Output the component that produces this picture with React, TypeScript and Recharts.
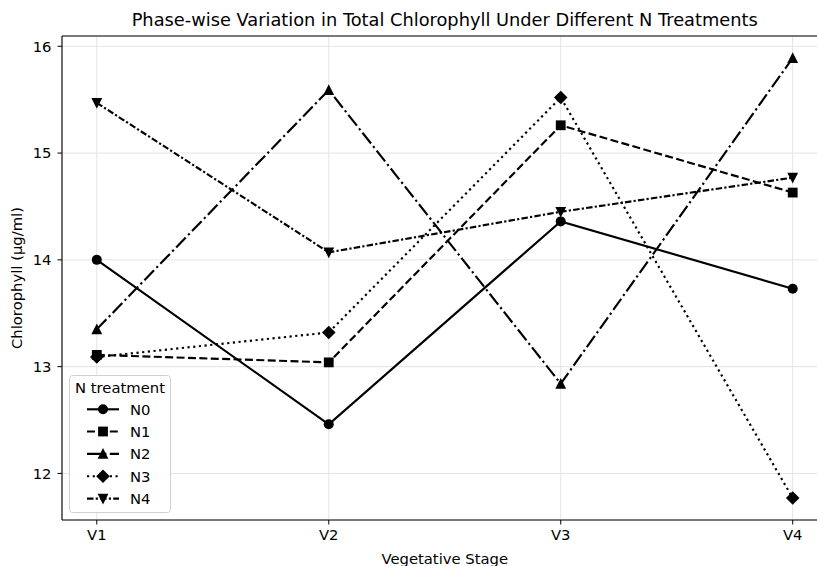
import React from "react";
import {
  LineChart, Line, XAxis, YAxis, CartesianGrid, ReferenceLine,
} from "recharts";

// stades et valeurs
const stages = ["V1", "V2", "V3", "V4"];
const n0 = [14.0, 12.46, 14.36, 13.73];
const n1 = [13.11, 13.04, 15.26, 14.63];
const n2 = [13.35, 15.59, 12.84, 15.89];
const n3 = [13.09, 13.32, 15.52, 11.77];
const n4 = [15.47, 14.07, 14.45, 14.77];
const yTicks = [12, 13, 14, 15, 16];

const Y_MIN = 11.564;
const Y_MAX = 16.096;
const FONT = "'DejaVu Sans', sans-serif";
const FS = 14.8;
const LW = 2.15;

type Shape = "circle" | "square" | "triangle" | "diamond" | "triangleDown";

const series: { key: string; shape: Shape; dash?: string }[] = [
  { key: "N0", shape: "circle" },
  { key: "N1", shape: "square", dash: "8 3.4" },
  { key: "N2", shape: "triangle", dash: "13.8 3.4 2.2 3.4" },
  { key: "N3", shape: "diamond", dash: "2.2 3.5" },
  { key: "N4", shape: "triangleDown", dash: "6.5 2.2 2.2 2.2" },
];

const data = stages.map((s, i) => ({
  idx: i, stage: s, N0: n0[i], N1: n1[i], N2: n2[i], N3: n3[i], N4: n4[i],
}));

function marker(shape: Shape, cx: number, cy: number, key?: string) {
  switch (shape) {
    case "circle":
      return <circle key={key} cx={cx} cy={cy} r={5} fill="#000" />;
    case "square":
      return <rect key={key} x={cx - 4.9} y={cy - 4.9} width={9.8} height={9.8} fill="#000" />;
    case "triangle":
      return <polygon key={key} points={`${cx},${cy - 5.8} ${cx - 5.4},${cy + 4.9} ${cx + 5.4},${cy + 4.9}`} fill="#000" />;
    case "triangleDown":
      return <polygon key={key} points={`${cx},${cy + 5.8} ${cx - 5.4},${cy - 4.9} ${cx + 5.4},${cy - 4.9}`} fill="#000" />;
    case "diamond":
      return <polygon key={key} points={`${cx},${cy - 6.8} ${cx + 6.8},${cy} ${cx},${cy + 6.8} ${cx - 6.8},${cy}`} fill="#000" />;
  }
}

const dotFor = (shape: Shape, name: string) => (p: any) =>
  marker(shape, p.cx, p.cy, `${name}-${p.index}`);

// légende façon matplotlib, boîte en bas à gauche
function LegendBox() {
  const rows = [34.3, 56.5, 78.8, 101.2, 123.6];
  return (
    <svg width={102} height={138} style={{ display: "block", fontFamily: FONT }}>
      <rect x={0.5} y={0.5} width={101} height={137} rx={3} fill="rgba(255,255,255,0.85)" stroke="#d0d0d0" />
      <text x={51} y={17.5} fontSize={FS} textAnchor="middle" fill="#000">N treatment</text>
      {series.map((s, i) => (
        <g key={s.key}>
          <line x1={18} x2={50} y1={rows[i]} y2={rows[i]} stroke="#000" strokeWidth={LW} strokeDasharray={s.dash} />
          {marker(s.shape, 34, rows[i])}
          <text x={61} y={rows[i] + 5.3} fontSize={FS} fill="#000">{s.key}</text>
        </g>
      ))}
    </svg>
  );
}

export default function App() {
  return (
    <div style={{ position: "absolute", left: 0, top: 0, width: 817, height: 566, overflow: "hidden", background: "#fff" }}>
      <div style={{
        position: "absolute", left: 44.7, top: 9, width: 800, textAlign: "center",
        fontFamily: FONT, fontSize: 17.8, lineHeight: "21px", color: "#000",
      }}>
        Phase-wise Variation in Total Chlorophyll Under Different N Treatments
      </div>
      <LineChart width={840} height={566} data={data} margin={{ top: 36, right: 12.5, bottom: 0, left: 0 }}>
        <CartesianGrid stroke="#e4e4e4" strokeWidth={1} />
        <XAxis
          dataKey="idx" type="number" domain={[-0.15, 3.15]} ticks={[0, 1, 2, 3]}
          tickFormatter={(v: number) => stages[v]} allowDataOverflow height={46}
          axisLine={{ stroke: "#000", strokeWidth: 1.1 }} tickLine={{ stroke: "#000" }}
          tickSize={4.5} tickMargin={5}
          tick={{ fill: "#000", fontSize: FS, fontFamily: FONT }}
          label={{ value: "Vegetative Stage", position: "insideBottom", offset: 2, fill: "#000", fontSize: FS, fontFamily: FONT }}
        />
        <YAxis
          type="number" domain={[Y_MIN, Y_MAX]} ticks={yTicks} allowDataOverflow width={62}
          axisLine={{ stroke: "#000", strokeWidth: 1.1 }} tickLine={{ stroke: "#000" }}
          tickSize={4.5} tickMargin={6}
          tick={{ fill: "#000", fontSize: FS, fontFamily: FONT }}
          label={{
            value: "Chlorophyll (µg/ml)", angle: -90, position: "insideLeft", offset: 17,
            style: { textAnchor: "middle" }, fill: "#000", fontSize: FS, fontFamily: FONT,
          }}
        />
        <ReferenceLine y={Y_MAX} stroke="#000" strokeWidth={1.1} />
        {series.map((s) => (
          <Line
            key={s.key} dataKey={s.key} type="linear" stroke="#000" strokeWidth={LW}
            strokeDasharray={s.dash} dot={dotFor(s.shape, s.key)} activeDot={false}
            isAnimationActive={false}
          />
        ))}
      </LineChart>
      <div style={{ position: "absolute", left: 69, top: 375 }}>
        <LegendBox />
      </div>
    </div>
  );
}
